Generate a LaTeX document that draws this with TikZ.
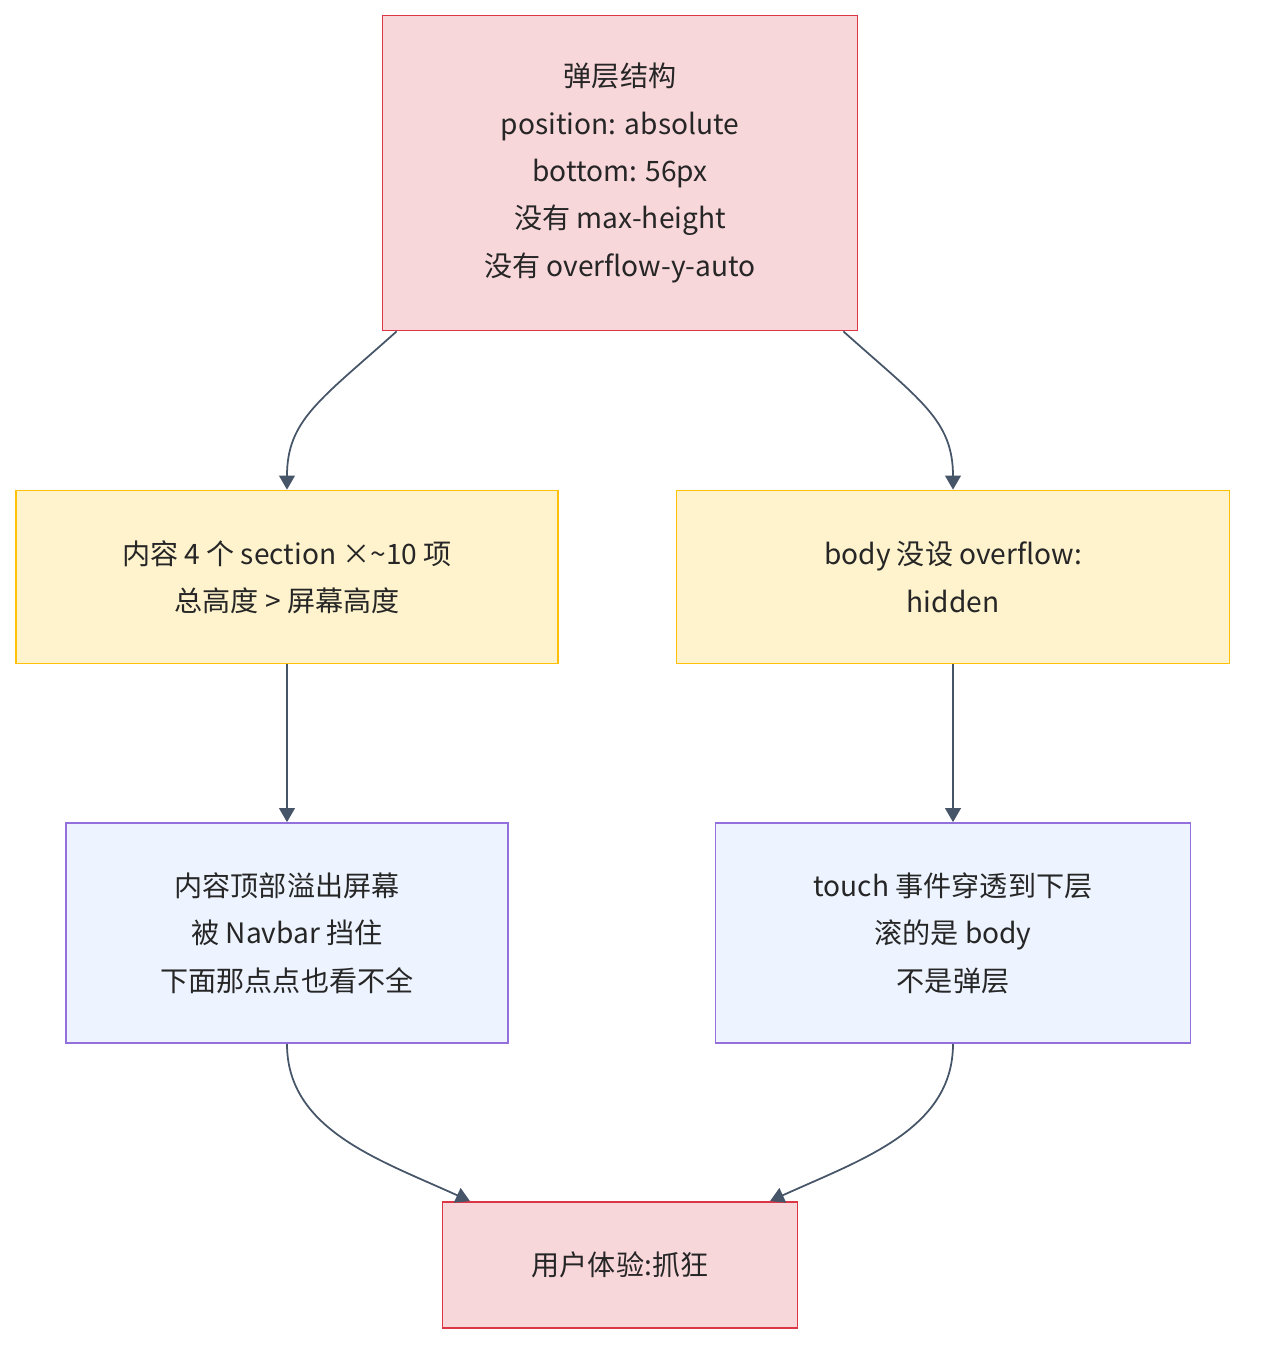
\documentclass[tikz,border=0pt]{standalone}
\usepackage{fontspec}
\setmainfont{Noto Sans CJK SC}
\usetikzlibrary{arrows.meta}
\definecolor{pinkfill}{HTML}{F8D7DA}
\definecolor{pinkline}{HTML}{DC3545}
\definecolor{yelfill}{HTML}{FFF3CD}
\definecolor{yelline}{HTML}{FFC107}
\definecolor{bluefill}{HTML}{EEF4FF}
\definecolor{blueline}{HTML}{9370DB}
\definecolor{edgecol}{HTML}{475569}
\tikzset{
  box/.style={draw, line width=1pt, align=center, inner sep=0pt,
    font=\fontsize{16}{27}\selectfont, text=black!85},
  bad/.style={box, fill=pinkfill, draw=pinkline},
  warn/.style={box, fill=yelfill, draw=yelline},
  info/.style={box, fill=bluefill, draw=blueline},
  flow/.style={draw=edgecol, line width=1pt, -{Triangle[length=8pt,width=9pt]}}
}
\begin{document}
\begin{tikzpicture}[x=0.02cm, y=-0.02cm]
  \useasboundingbox (0,0) rectangle (1262,1360);

  % Boxes
  \node[bad, minimum width=475*0.02cm, minimum height=315*0.02cm] (layer) at (620,173)
    {弹层结构\\position: absolute\\bottom: 56px\\没有 max-height\\没有 overflow-y-auto};
  \node[warn, minimum width=542*0.02cm, minimum height=173*0.02cm] (content) at (287,577)
    {内容 4 个 section ×\textasciitilde 10 项\\总高度 > 屏幕高度};
  \node[warn, minimum width=553*0.02cm, minimum height=173*0.02cm] (body) at (953,577)
    {body 没设 overflow:\\hidden};
  \node[info, minimum width=442*0.02cm, minimum height=220*0.02cm] (overflow) at (287,933)
    {内容顶部溢出屏幕\\被 Navbar 挡住\\下面那点点也看不全};
  \node[info, minimum width=475*0.02cm, minimum height=220*0.02cm] (touch) at (953,933)
    {touch 事件穿透到下层\\滚的是 body\\不是弹层};
  \node[bad, minimum width=355*0.02cm, minimum height=126*0.02cm] (user) at (620,1265)
    {用户体验:抓狂};

  % Connectors
  \draw[flow] (layer.south west) ++(15,0) coordinate (l1)
    (l1) .. controls (320,400) and (287,420) .. (content.north);
  \draw[flow] (layer.south east) ++(-15,0) coordinate (r1)
    (r1) .. controls (920,400) and (953,420) .. (body.north);
  \draw[flow] (content) -- (overflow);
  \draw[flow] (body) -- (touch);
  \draw[flow] (overflow.south) .. controls (287,1130) and (380,1160) .. ([xshift=-150*0.02cm]user.north);
  \draw[flow] (touch.south) .. controls (953,1130) and (860,1160) .. ([xshift=150*0.02cm]user.north);
\end{tikzpicture}
\end{document}
